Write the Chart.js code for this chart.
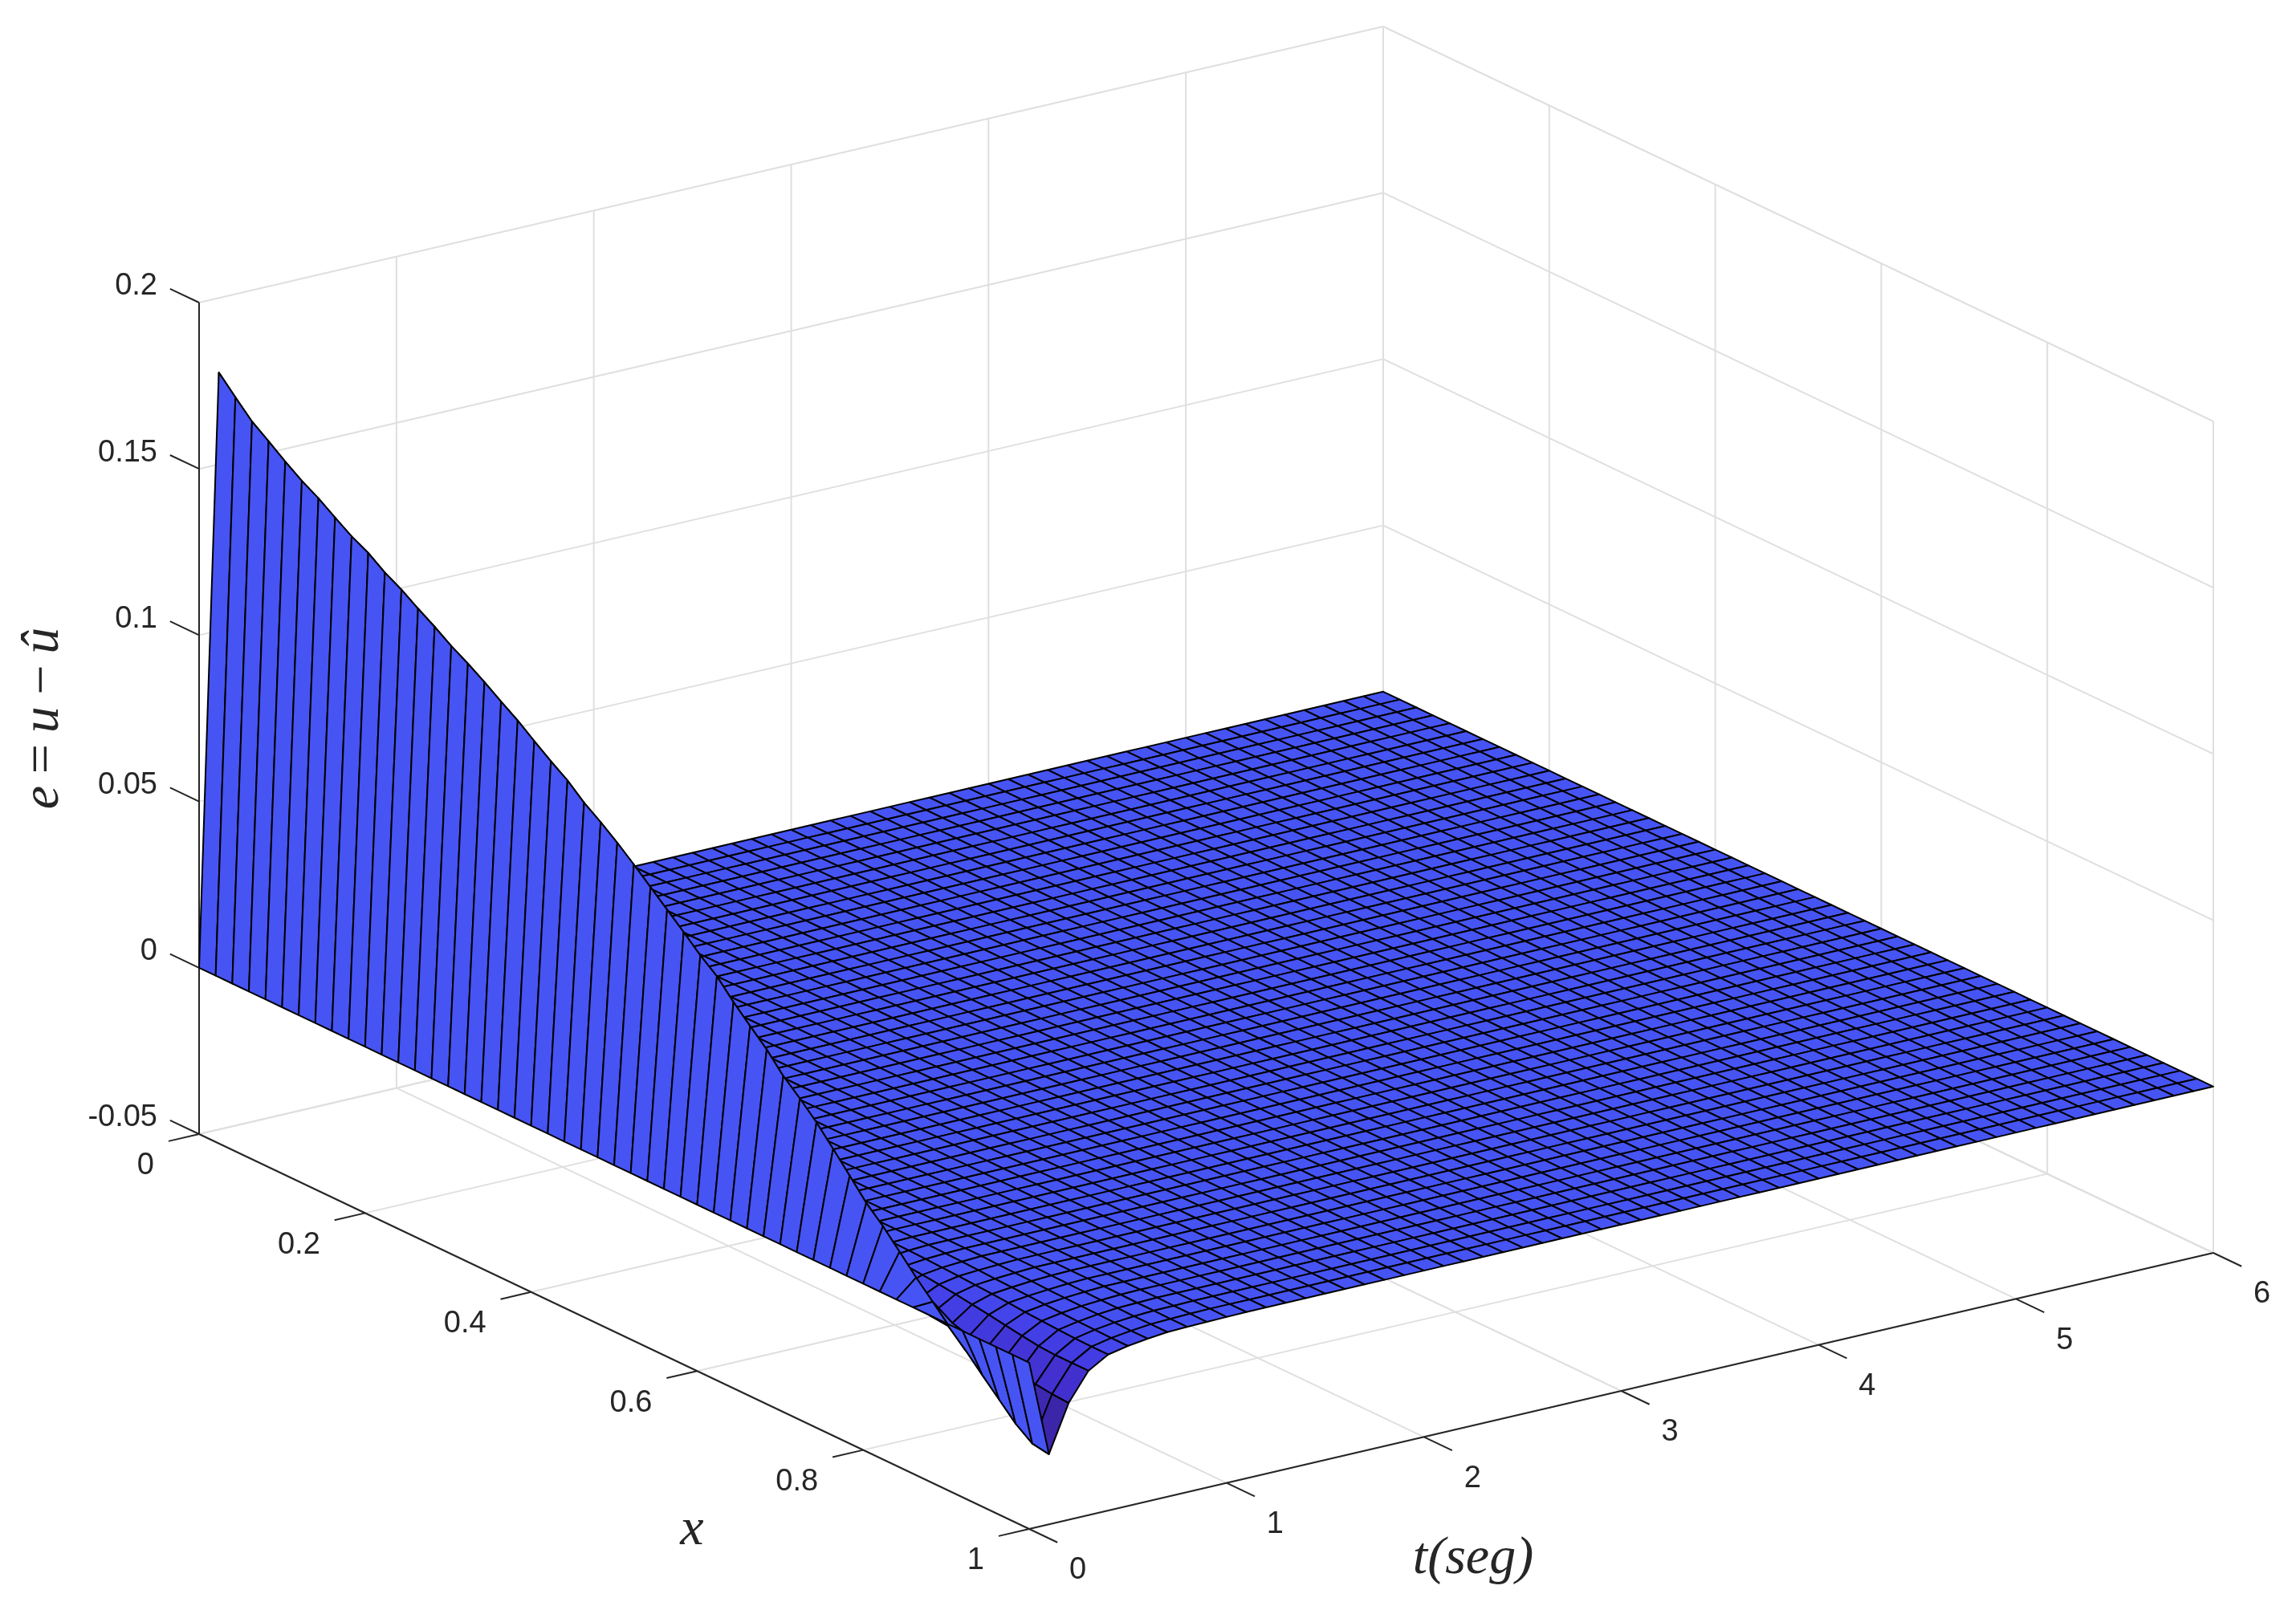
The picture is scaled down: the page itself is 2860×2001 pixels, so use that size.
<!DOCTYPE html>
<html>
<head>
<meta charset="utf-8">
<title>e = u - û</title>
<script src="https://cdn.jsdelivr.net/npm/chart.js@4/dist/chart.umd.js"></script>
<style>html,body{margin:0;padding:0;background:#fff}canvas{display:block}</style>
</head>
<body>
<canvas id="c" width="2860" height="2001"></canvas>
<script>
/* mesh */
var xGrid=[0,.02,.04,.06,.08,.1,.12,.14,.16,.18,.2,.22,.24,.26,.28,.3,.32,.34,.36,.38,.4,.42,.44,.46,.48,.5,.52,.54,.56,.58,.6,.62,.64,.66,.68,.7,.72,.74,.76,.78,.8,.82,.84,.86,.88,.9,.92,.94,.96,.98,1];
var tGrid=[0,.1,.2,.3,.4,.5,.6,.7,.8,.9,1,1.1,1.2,1.3,1.4,1.5,1.6,1.7,1.8,1.9,2,2.1,2.2,2.3,2.4,2.5,2.6,2.7,2.8,2.9,3,3.1,3.2,3.3,3.4,3.5,3.6,3.7,3.8,3.9,4,4.1,4.2,4.3,4.4,4.5,4.6,4.7,4.8,4.9,5,5.1,5.2,5.3,5.4,5.5,5.6,5.7,5.8,5.9,6];
/* ticks */
var xTicks=[0,.2,.4,.6,.8,1];
var tTicks=[0,1,2,3,4,5,6];
var zTicks=[-.05,0,.05,.1,.15,.2];
var xTickLabels=['0','0.2','0.4','0.6','0.8','1'];
var tTickLabels=['0','1','2','3','4','5','6'];
var zTickLabels=['-0.05','0','0.05','0.1','0.15','0.2'];
/* e(x,t), one list per t */
var flatRow=[0,0,0,0,0,0,0,0,0,0,0,0,0,0,0,0,0,0,0,0,0,0,0,0,0,0,0,0,0,0,0,0,0,0,0,0,0,0,0,0,0,0,0,0,0,0,0,0,0,0,0];
var rowT01=[.1776,.1725,.1676,.1640,.1603,.1569,.1540,.1506,.1473,.1447,.1412,.1384,.1351,.1320,.1286,.1257,.1225,.1190,.1157,.1119,.1082,.1048,.1005,.0970,.0932,.0890,.0846,.0802,.0758,.0712,.0673,.0619,.0571,.0524,.0468,.0424,.0376,.0320,.0263,.0205,.0159,.0106,.0052,.0003,-.0048,-.0097,-.0147,-.0196,-.0245,-.0281,-.0289];
var rowT02=[0,0,0,0,0,0,0,0,0,0,0,0,0,0,0,0,0,0,0,0,0,0,0,0,0,0,0,0,0,0,0,0,-.0001,-.0002,-.0004,-.0007,-.0010,-.0014,-.0020,-.0028,-.0037,-.0048,-.0060,-.0075,-.0090,-.0105,-.0118,-.0130,-.0140,-.0146,-.0149];
var rowT03=[0,0,0,0,0,0,0,0,0,0,0,0,0,0,0,0,0,0,0,0,0,0,0,0,0,0,0,0,0,0,0,0,0,0,-.0001,-.0002,-.0003,-.0005,-.0008,-.0011,-.0015,-.0020,-.0026,-.0033,-.0040,-.0048,-.0056,-.0063,-.0066,-.0066,-.0066];
var rowT04=[0,0,0,0,0,0,0,0,0,0,0,0,0,0,0,0,0,0,0,0,0,0,0,0,0,0,0,0,0,0,0,0,0,0,0,0,-.0001,-.0002,-.0003,-.0005,-.0007,-.0009,-.0012,-.0015,-.0018,-.0022,-.0025,-.0028,-.0030,-.0031,-.0031];
var rowT05=[0,0,0,0,0,0,0,0,0,0,0,0,0,0,0,0,0,0,0,0,0,0,0,0,0,0,0,0,0,0,0,0,0,0,0,0,0,0,0,-.0002,-.0003,-.0005,-.0007,-.0009,-.0011,-.0013,-.0015,-.0017,-.0018,-.0019,-.0019];
var rowT06=[0,0,0,0,0,0,0,0,0,0,0,0,0,0,0,0,0,0,0,0,0,0,0,0,0,0,0,0,0,0,0,0,0,0,0,0,0,0,0,0,0,-.0002,-.0003,-.0004,-.0006,-.0007,-.0008,-.0009,-.0010,-.0011,-.0011];
var rowT07=[0,0,0,0,0,0,0,0,0,0,0,0,0,0,0,0,0,0,0,0,0,0,0,0,0,0,0,0,0,0,0,0,0,0,0,0,0,0,0,0,0,0,0,-.0001,-.0002,-.0003,-.0004,-.0004,-.0005,-.0005,-.0005];
var rowT08=[0,0,0,0,0,0,0,0,0,0,0,0,0,0,0,0,0,0,0,0,0,0,0,0,0,0,0,0,0,0,0,0,0,0,0,0,0,0,0,0,0,0,0,0,0,0,-.0001,-.0002,-.0002,-.0003,-.0003];
var rowT09=[0,0,0,0,0,0,0,0,0,0,0,0,0,0,0,0,0,0,0,0,0,0,0,0,0,0,0,0,0,0,0,0,0,0,0,0,0,0,0,0,0,0,0,0,0,0,0,0,-.0001,-.0001,-.0002];
var rowT10=[0,0,0,0,0,0,0,0,0,0,0,0,0,0,0,0,0,0,0,0,0,0,0,0,0,0,0,0,0,0,0,0,0,0,0,0,0,0,0,0,0,0,0,0,0,0,0,0,0,0,-.0001];
var eRows=[flatRow,rowT01,rowT02,rowT03,rowT04,rowT05,rowT06,rowT07,rowT08,rowT09,rowT10];
while(eRows.length<tGrid.length){eRows.push(flatRow);}	// e is 0 from here on
/* colormap, e -> face colour */
var shadeE=[-.029,-.0149,-.0066,-.002,0];
var shadeRGB=[[58,36,165],[66,48,205],[66,60,226],[68,74,238],[70,84,244]];

/* the box as it lies in the picture: orthographic, straight axes */
var O={x:248,y:1413},XV={x:1034,y:492},TV={x:1475,y:-344},ZV=-1036;
var proj=function(x,t,e){return {x:O.x+x*XV.x+t/6*TV.x,y:O.y+x*XV.y+t/6*TV.y+(e+.05)/.25*ZV};};
var faceColor=function(e){let k=0;
	if(e>=0){let c=shadeRGB[4];return 'rgb('+c[0]+','+c[1]+','+c[2]+')';}
	if(e<=shadeE[0]){k=0;}else{while(e>shadeE[k+1]){k++;}}
	let f=Math.min(1,Math.max(0,(e-shadeE[k])/(shadeE[k+1]-shadeE[k])));let a=shadeRGB[k],b=shadeRGB[k+1];
	return 'rgb('+Math.round(a[0]+(b[0]-a[0])*f)+','+Math.round(a[1]+(b[1]-a[1])*f)+','+Math.round(a[2]+(b[2]-a[2])*f)+')';};

var sets=[];
var seg=function(a,b,color){sets.push({data:[a,b],showLine:true,fill:false,borderColor:color,borderWidth:2,pointRadius:0,borderCapStyle:'butt'});};
var GRID='#dfdfdf',AXIS='#262626';
const xEnd=1,tEnd=6,zLow=-.05,zHigh=.2;
/* walls and floor */
tTicks.forEach(function(t){if(t>0){seg(proj(0,t,zLow),proj(0,t,zHigh),GRID);}seg(proj(0,t,zLow),proj(xEnd,t,zLow),GRID);});
xTicks.forEach(function(x){seg(proj(x,tEnd,zLow),proj(x,tEnd,zHigh),GRID);seg(proj(x,0,zLow),proj(x,tEnd,zLow),GRID);});
zTicks.forEach(function(z){seg(proj(0,0,z),proj(0,tEnd,z),GRID);seg(proj(0,tEnd,z),proj(xEnd,tEnd,z),GRID);});
/* axes and tick marks */
seg(proj(0,0,zLow),proj(0,0,zHigh),AXIS);seg(proj(0,0,zLow),proj(xEnd,0,zLow),AXIS);seg(proj(xEnd,0,zLow),proj(xEnd,tEnd,zLow),AXIS);
zTicks.forEach(function(z){seg(proj(0,0,z),proj(-.035,0,z),AXIS);});
xTicks.forEach(function(x){seg(proj(x,0,zLow),proj(x,-.155,zLow),AXIS);});
tTicks.forEach(function(t){seg(proj(xEnd,t,zLow),proj(xEnd+.034,t,zLow),AXIS);});
/* surface, back to front */
for(let i=0;i<xGrid.length-1;i++){for(let j=tGrid.length-2;j>=0;j--){
	let a=proj(xGrid[i],tGrid[j],eRows[j][i]),b=proj(xGrid[i+1],tGrid[j],eRows[j][i+1]),
		c=proj(xGrid[i+1],tGrid[j+1],eRows[j+1][i+1]),d=proj(xGrid[i],tGrid[j+1],eRows[j+1][i]);
	sets.push({data:[a,b,c,d,a],showLine:true,fill:'shape',backgroundColor:faceColor(eRows[j][i]),borderColor:'#000',borderWidth:2,borderJoinStyle:'round',pointRadius:0});
}}
sets.reverse();	// chart.js paints the last dataset first

var labelsPlugin={id:'labels3d',afterDraw:function(chart){let ctx=chart.ctx,sx=chart.scales.x,sy=chart.scales.y;
	let at=function(p){return {x:sx.getPixelForValue(p.x),y:sy.getPixelForValue(p.y)};};
	ctx.save();ctx.fillStyle=AXIS;ctx.font='38px "Liberation Sans"';ctx.textBaseline='middle';
	ctx.textAlign='right';
	zTicks.forEach(function(z,k){let p=at(proj(0,0,z));ctx.fillText(zTickLabels[k],p.x-52,p.y-20);});
	xTicks.forEach(function(x,k){let p=at(proj(x,0,zLow));ctx.fillText(xTickLabels[k],p.x-56,p.y+40);});
	ctx.textAlign='left';
	tTicks.forEach(function(t,k){let p=at(proj(xEnd,t,zLow));ctx.fillText(tTickLabels[k],p.x+50,p.y+52);});
	ctx.textBaseline='alphabetic';ctx.textAlign='center';ctx.font='italic 66px "Liberation Serif"';
	ctx.fillText('x',at({x:862,y:0}).x,at({x:0,y:1924}).y);
	ctx.fillText('t(seg)',at({x:1835,y:0}).x,at({x:0,y:1960}).y);
	ctx.translate(72,895);ctx.rotate(-Math.PI/2);ctx.wordSpacing='-6px';
	ctx.fillText('e = u \u2212 \u00fb',0,0);
	ctx.restore();
}};

new Chart(document.getElementById('c'),{type:'scatter',data:{datasets:sets},plugins:[labelsPlugin],
	options:{responsive:false,devicePixelRatio:1,animation:false,events:[],parsing:false,normalized:true,
		layout:{padding:0},
		plugins:{legend:{display:false},tooltip:{enabled:false},title:{display:false}},
		scales:{x:{type:'linear',min:0,max:2860,display:false},y:{type:'linear',min:0,max:2001,reverse:true,display:false}}
	}});
</script>
</body>
</html>
